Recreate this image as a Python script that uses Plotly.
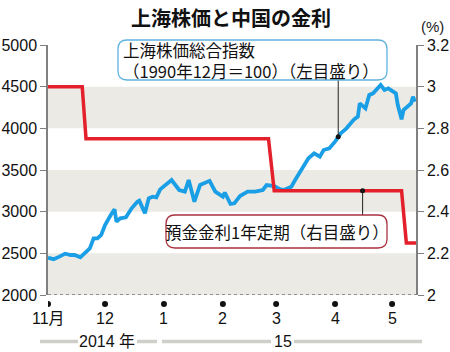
import plotly.graph_objects as go

# ---------------- data ----------------
stock_dates = [
    "2014-11-01", "2014-11-04", "2014-11-07", "2014-11-10", "2014-11-13", "2014-11-15",
    "2014-11-18", "2014-11-20", "2014-11-23", "2014-11-25", "2014-11-27", "2014-11-29",
    "2014-12-01", "2014-12-04", "2014-12-06", "2014-12-07", "2014-12-09", "2014-12-12",
    "2014-12-15", "2014-12-18", "2014-12-19", "2014-12-22", "2014-12-24", "2014-12-26",
    "2014-12-28", "2014-12-30", "2015-01-02", "2015-01-05", "2015-01-09", "2015-01-12",
    "2015-01-14", "2015-01-17", "2015-01-20", "2015-01-25", "2015-01-28", "2015-02-01",
    "2015-02-02", "2015-02-05", "2015-02-07", "2015-02-10", "2015-02-14", "2015-02-18",
    "2015-02-22", "2015-02-24", "2015-02-28", "2015-03-03", "2015-03-05", "2015-03-09",
    "2015-03-11", "2015-03-15", "2015-03-18", "2015-03-21", "2015-03-24", "2015-03-26",
    "2015-03-29", "2015-04-01", "2015-04-04", "2015-04-07", "2015-04-10", "2015-04-11",
    "2015-04-13", "2015-04-14", "2015-04-17", "2015-04-19", "2015-04-21", "2015-04-25",
    "2015-04-27", "2015-04-29", "2015-05-03", "2015-05-04", "2015-05-06", "2015-05-07",
    "2015-05-11", "2015-05-12", "2015-05-13",
]
stock_values = [
    2448, 2428, 2460, 2496, 2480, 2480,
    2452, 2500, 2560, 2680, 2680, 2720,
    2840, 2960, 3028, 2880, 2920, 2932,
    3040, 3120, 3132, 2980, 3160, 3180,
    3172, 3268, 3320, 3380, 3260, 3240,
    3380, 3120, 3320, 3370, 3240, 3180,
    3228, 3092, 3100, 3188, 3240, 3240,
    3260, 3320, 3308, 3270, 3260, 3300,
    3380, 3540, 3640, 3700, 3660, 3740,
    3760, 3840, 3940, 4000, 4080, 4108,
    4140, 4300, 4240, 4400, 4420, 4520,
    4460, 4480, 4420, 4280, 4108, 4220,
    4300, 4380, 4320,
]

rate_dates = ["2014-11-01", "2014-11-19", "2014-11-21", "2015-02-25", "2015-02-28",
              "2015-05-06", "2015-05-08 12:00", "2015-05-13 14:00"]
rate_values = [3.0, 3.0, 2.75, 2.75, 2.5, 2.5, 2.25, 2.25]

month_ticks = ["2014-11-01", "2014-12-01", "2015-01-01", "2015-02-01",
               "2015-03-01", "2015-04-01", "2015-05-01"]
month_labels = ["11月", "12", "1", "2", "3", "4", "5"]

left_ticks = [2000, 2500, 3000, 3500, 4000, 4500, 5000]
right_ticks = [2.0, 2.2, 2.4, 2.6, 2.8, 3.0, 3.2]
stripe_bands = [(2000, 2500), (3000, 3500), (4000, 4500)]

title_text = "上海株価と中国の金利"
stock_label = ["上海株価総合指数", "（1990年12月＝100）（左目盛り）"]
rate_label = "預金金利1年定期（右目盛り）"
year_labels = ["2014 年", "15"]

# ---------------- layout helpers ----------------
W, H = 450, 352
L, R, T, B = 48, 416, 45, 295  # plot area in pixels


def px(x):
    return (x - L) / (R - L)


def py(y):
    return (B - y) / (B - T)


def rounded_path(x0, y0, x1, y1, r):
    pts = [
        ("M", [(x0 + r, y0)]),
        ("L", [(x1 - r, y0)]),
        ("Q", [(x1, y0), (x1, y0 + r)]),
        ("L", [(x1, y1 - r)]),
        ("Q", [(x1, y1), (x1 - r, y1)]),
        ("L", [(x0 + r, y1)]),
        ("Q", [(x0, y1), (x0, y1 - r)]),
        ("L", [(x0, y0 + r)]),
        ("Q", [(x0, y0), (x0 + r, y0)]),
    ]
    s = ""
    for cmd, ps in pts:
        s += cmd + " " + " ".join(f"{px(a):.5f},{py(b):.5f}" for a, b in ps) + " "
    return s + "Z"


FONT = "Liberation Sans, Noto Sans CJK JP, sans-serif"
CJK = "Noto Sans CJK JP, sans-serif"
BLUE = "#1a9fe6"
RED = "#e3202b"

fig = go.Figure()

fig.add_trace(go.Scatter(x=stock_dates, y=stock_values, mode="lines",
                         line=dict(color=BLUE, width=3.8), yaxis="y",
                         showlegend=False, hoverinfo="skip"))
fig.add_trace(go.Scatter(x=rate_dates, y=rate_values, mode="lines",
                         line=dict(color=RED, width=3.5), yaxis="y2",
                         showlegend=False, hoverinfo="skip"))

# leader dots
fig.add_trace(go.Scatter(x=["2015-04-02 16:00"], y=[3900], mode="markers",
                         marker=dict(color="#111", size=5), showlegend=False,
                         hoverinfo="skip", yaxis="y"))
fig.add_trace(go.Scatter(x=["2015-04-15 12:00"], y=[2.5], mode="markers",
                         marker=dict(color="#111", size=5), showlegend=False,
                         hoverinfo="skip", yaxis="y2"))

shapes = []
for lo, hi in stripe_bands:
    shapes.append(dict(type="rect", xref="paper", yref="y", x0=0, x1=1, y0=lo, y1=hi,
                       fillcolor="#ebeae4", line=dict(width=0), layer="below"))

# dashed baseline
shapes.append(dict(type="line", xref="paper", yref="y", x0=0, x1=1, y0=2000, y1=2000,
                   line=dict(color="#333", width=1, dash="dot"), layer="above"))

# month dots below axis
for d in month_ticks:
    shapes.append(dict(type="circle", xref="x", yref="paper", xsizemode="pixel",
                       ysizemode="pixel", xanchor=d, yanchor=py(304),
                       x0=-3, x1=3, y0=-3, y1=3,
                       fillcolor="#111", line=dict(width=0)))

# leader lines
shapes.append(dict(type="line", xref="x", yref="y", x0="2015-04-02 16:00", x1="2015-04-02 16:00",
                   y0=3900, y1=2000 + (B - 80) * 12, line=dict(color="#222", width=1)))
shapes.append(dict(type="line", xref="x", yref="y2", x0="2015-04-15 12:00", x1="2015-04-15 12:00",
                   y0=2.5, y1=2 + (B - 215) * 0.0048, line=dict(color="#222", width=1)))

# label boxes
shapes.append(dict(type="path", xref="paper", yref="paper",
                   path=rounded_path(118, 40, 387, 80, 9),
                   fillcolor="white", line=dict(color="#5fb3dd", width=1.3), layer="above"))
shapes.append(dict(type="path", xref="paper", yref="paper",
                   path=rounded_path(166, 215, 387, 248, 9),
                   fillcolor="white", line=dict(color="#a8323f", width=1.3), layer="above"))

# year bracket lines
for a, b in [(40, 78), (137, 157), (162, 271), (294, 422)]:
    shapes.append(dict(type="line", xref="paper", yref="paper", x0=px(a), x1=px(b),
                       y0=py(341.5), y1=py(341.5), line=dict(color="#cfcec8", width=3.5)))

annotations = []
annotations.append(dict(text=f"<b>{title_text}</b>", xref="paper", yref="paper",
                        x=px(231), y=py(18), showarrow=False, xanchor="center", yanchor="middle",
                        font=dict(family=CJK, size=20, color="#111")))
annotations.append(dict(text="(%)", xref="paper", yref="paper", x=px(432), y=py(27),
                        showarrow=False, xanchor="center", yanchor="middle",
                        font=dict(family=FONT, size=15, color="#222")))
annotations.append(dict(text="<br>".join(stock_label), xref="paper", yref="paper",
                        x=px(121), y=py(61), showarrow=False, xanchor="left",
                        yanchor="middle", align="left",
                        font=dict(family=CJK, size=16.5, color="#111")))
annotations.append(dict(text=rate_label, xref="paper", yref="paper", x=px(277), y=py(232),
                        showarrow=False, xanchor="center", yanchor="middle",
                        font=dict(family=CJK, size=16.5, color="#111")))
for d, lab in zip(month_ticks, month_labels):
    annotations.append(dict(text=lab, xref="x", yref="paper", x=d, y=py(318),
                            showarrow=False, xanchor="center", yanchor="middle",
                            font=dict(family=FONT, size=16, color="#111")))
annotations.append(dict(text=year_labels[0], xref="paper", yref="paper", x=px(107), y=py(341),
                        showarrow=False, xanchor="center", yanchor="middle",
                        font=dict(family=FONT, size=16, color="#111")))
annotations.append(dict(text=year_labels[1], xref="paper", yref="paper", x=px(283), y=py(341),
                        showarrow=False, xanchor="center", yanchor="middle",
                        font=dict(family=FONT, size=16, color="#111")))

fig.update_layout(
    width=W, height=H,
    margin=dict(l=L, r=W - R, t=T, b=H - B, pad=0),
    paper_bgcolor="white", plot_bgcolor="white",
    showlegend=False,
    shapes=shapes, annotations=annotations,
    xaxis=dict(type="date", range=["2014-11-01", "2015-05-13 14:00"],
               showgrid=False, zeroline=False, showline=False, automargin=False,
               showticklabels=False, ticks=""),
    yaxis=dict(range=[2000, 5000], tickvals=left_ticks, ticktext=[str(v) for v in left_ticks],
               showgrid=False, zeroline=False, showline=True, linecolor="#808080", linewidth=1.5,
               ticks="outside", ticklen=6, tickcolor="#808080", tickwidth=1.2, automargin=False,
               tickfont=dict(family=FONT, size=16, color="#111")),
    yaxis2=dict(range=[2, 3.2], tickvals=right_ticks,
                ticktext=["2", "2.2", "2.4", "2.6", "2.8", "3", "3.2"],
                overlaying="y", side="right", anchor="x", automargin=False,
                showgrid=False, zeroline=False, showline=True, linecolor="#808080", linewidth=1.5,
                ticks="outside", ticklen=6, tickcolor="#808080", tickwidth=1.2,
                tickfont=dict(family=FONT, size=16, color="#111")),
)

fig.write_html("out.html")
